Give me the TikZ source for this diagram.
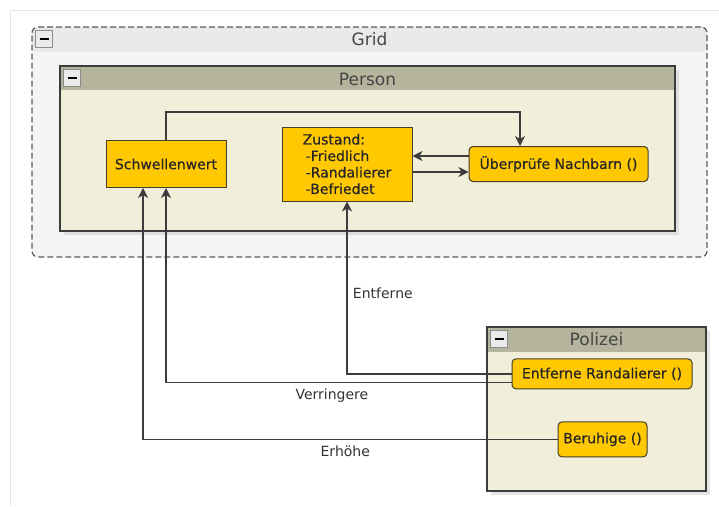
\documentclass[tikz,border=0pt]{standalone}
\usepackage{fontspec}
\setmainfont{DejaVu Sans}
\newfontfamily\statefont[FakeBold=0.6]{DejaVu Sans}
\usepackage{tikz}
\usetikzlibrary{
  arrows.meta,
  positioning,
  shadows,
  calc
}
\definecolor{stateyellow}{RGB}{255,200,0}
\definecolor{stateborder}{RGB}{70,62,40}
\definecolor{headolive}{RGB}{181,181,157}
\definecolor{bodycream}{RGB}{241,238,217}
\definecolor{gridhead}{RGB}{233,233,233}
\definecolor{gridbody}{RGB}{244,244,244}
\definecolor{wiregray}{RGB}{60,60,60}
\definecolor{textgray}{RGB}{50,50,50}
\definecolor{framegray}{RGB}{228,228,228}

\begin{document}
\begin{tikzpicture}[
  x=1pt, y=-1pt,
  every node/.style={font=\fontsize{14}{16.5}\selectfont, text=textgray},
  container/.style={
    rectangle, inner sep=0pt,
    draw=wiregray, line width=1.3pt, fill=bodycream,
    drop shadow={shadow xshift=4pt, shadow yshift=-4pt, fill=black!20},
    path picture={\fill[headolive] (path picture bounding box.north west)
      rectangle ([yshift=-#1]path picture bounding box.north east);}
  },
  container/.default=24pt,
  gridbox/.style={
    rectangle, inner sep=0pt, rounded corners=6pt,
    draw=black!65, line width=1.2pt, dash pattern=on 6pt off 3pt, fill=gridbody,
    path picture={\fill[gridhead] (path picture bounding box.north west)
      rectangle ([yshift=-25pt]path picture bounding box.north east);}
  },
  title/.style={font=\fontsize{17}{20}\selectfont, text=textgray!90!white, anchor=base},
  minusbtn/.style={
    rectangle, anchor=north west, minimum size=17pt, inner sep=0pt,
    draw=black!45, line width=0.8pt, fill=black!8,
    path picture={\draw[black, line width=1.8pt]
      ([xshift=-4.5pt]path picture bounding box.center) --
      ([xshift=4.5pt]path picture bounding box.center);}
  },
  state/.style={
    rectangle, draw=stateborder, line width=1pt, fill=stateyellow,
    font=\statefont\fontsize{14}{16.5}\selectfont, text=black!85, inner sep=3pt
  },
  method/.style={state, rounded corners=4pt},
  arr/.style={-{Stealth[length=10pt,width=10pt,inset=3pt]}, line width=1.3pt, color=wiregray},
  lbl/.style={text=textgray}
]
  \useasboundingbox (0,0) rectangle (719,506);
  \draw[framegray, line width=1pt] (10,506) -- (10,10) -- (719,10);

  % Containers
  \node[gridbox, minimum width=675pt, minimum height=230pt] (grid) at (369.5,142) {};
  \node[container, minimum width=615pt, minimum height=165pt] (person) at (367.5,148.5) {};
  \node[container=25pt, minimum width=219pt, minimum height=164pt] (polizei) at (596.5,409) {};

  \node[title] (gridtitle) at ([yshift=-19pt]grid.north) {Grid};
  \node[title] (persontitle) at ([yshift=-20pt]person.north) {Person};
  \node[title] (polizeititle) at ([yshift=-19pt]polizei.north) {Polizei};

  \foreach \c in {grid, person, polizei} {
    \node[minusbtn] (\c-btn) at ([shift={(4pt,-4pt)}]\c.north west) {};
  }

  % Person
  \node[state, align=left, minimum width=130pt, minimum height=74pt] (zust) at (347,164)
    {Zustand:\\\hspace{3pt}-Friedlich\\\hspace{3pt}-Randalierer\\\hspace{3pt}-Befriedet};
  \node[state, minimum width=120pt, minimum height=47pt, left=55pt of zust] (schw) {Schwellenwert};
  \node[method, minimum width=179pt, minimum height=35pt, right=56pt of zust] (ueber) {Überprüfe Nachbarn ()};

  % Polizei
  \node[method, minimum width=180pt, minimum height=30pt, below=32pt of polizei.north, xshift=5.5pt]
    (entf) {Entferne Randalierer ()};
  \node[method, minimum width=89pt, minimum height=35pt, below=95pt of polizei.north, xshift=6pt]
    (beru) {Beruhige ()};

  % Arrows
  \draw[arr] (schw.north) -- ++(0,-28) -| ([xshift=-38.5pt]ueber.north);
  \draw[arr] ([yshift=8pt]ueber.west) -- ([yshift=8pt]ueber.west -| zust.east);
  \draw[arr] ([yshift=-8pt]ueber.west -| zust.east) -- ([yshift=-8pt]ueber.west);

  \draw[arr] (entf.west) -| node[lbl, pos=0.733, right=2pt] {Entferne} (zust.south);
  \draw[arr] ([yshift=-8.5pt]entf.west) -| node[lbl, pos=0.26, below=3pt] {Verringere} (schw.south);
  \draw[arr] (beru.west) -| node[lbl, pos=0.256, below=3pt] {Erhöhe} ([xshift=-23pt]schw.south);
\end{tikzpicture}
\end{document}
